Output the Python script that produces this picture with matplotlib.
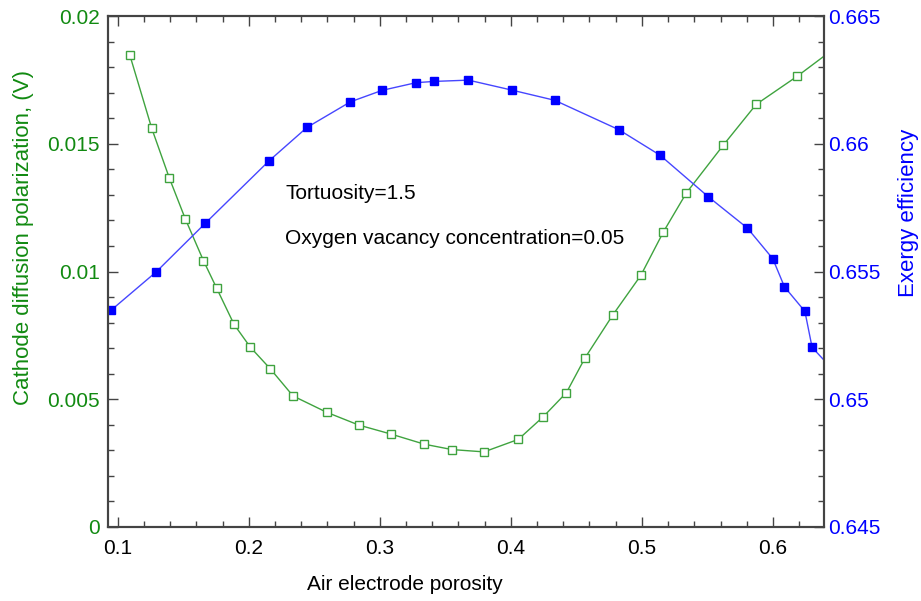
import numpy as np
import matplotlib
matplotlib.use("Agg")
import matplotlib.pyplot as plt
from matplotlib.ticker import MultipleLocator, FormatStrFormatter, FuncFormatter

plt.rcParams['font.family'] = ['Liberation Sans', 'DejaVu Sans']

# Cathode diffusion polarization (left axis, V)
x_pol = [0.1091, 0.1259, 0.1393, 0.1515, 0.1653, 0.1755, 0.1887, 0.2011, 0.2164,
         0.2337, 0.2594, 0.2839, 0.3083, 0.3340, 0.3551, 0.3795, 0.4057, 0.4248,
         0.4424, 0.4566, 0.4778, 0.4992, 0.5164, 0.5340, 0.5622, 0.5872, 0.6185,
         0.6500]
y_pol = [0.01848, 0.01560, 0.01366, 0.01206, 0.01043, 0.00934, 0.00793, 0.00704,
         0.00619, 0.00513, 0.00449, 0.00399, 0.00364, 0.00324, 0.00303, 0.00294,
         0.00343, 0.00432, 0.00526, 0.00662, 0.00830, 0.00985, 0.01155, 0.01308,
         0.01495, 0.01654, 0.01764, 0.01885]

# Exergy efficiency (right axis)
x_ex = [0.0950, 0.1294, 0.1668, 0.2154, 0.2444, 0.2775, 0.3017, 0.3276, 0.3416,
        0.3676, 0.4007, 0.4335, 0.4824, 0.5139, 0.5508, 0.5805, 0.5999, 0.6088,
        0.6244, 0.6299, 0.6450]
y_ex = [0.65349, 0.65499, 0.65689, 0.65933, 0.66064, 0.66164, 0.66209, 0.66239,
        0.66244, 0.66249, 0.66210, 0.66170, 0.66055, 0.65955, 0.65792, 0.65670,
        0.65550, 0.65440, 0.65344, 0.65203, 0.65120]

green_txt = '#118a11'
green_line = '#3fa33f'
blue_txt = '#0000ff'
blue_line = '#4646ff'
fs = 15

fig = plt.figure(figsize=(9.21, 6.01), dpi=100)
ax = fig.add_axes([108 / 921, 1 - 527 / 601, 715.5 / 921, 511 / 601])
ax2 = ax.twinx()

ax.plot(x_pol, y_pol, '-', color=green_line, lw=1.0, marker='s', ms=5.5,
        mfc='white', mec=green_line, mew=1.0)
ax2.plot(x_ex, y_ex, '-', color=blue_line, lw=1.0, marker='s', ms=5.5,
         mfc='#0000ff', mec='#0000ff')

ax.set_xlim(0.0925, 0.6386)
ax.set_ylim(0, 0.02)
ax2.set_ylim(0.645, 0.665)

ax.xaxis.set_major_locator(MultipleLocator(0.1))
ax.xaxis.set_minor_locator(MultipleLocator(0.02))
ax.yaxis.set_major_locator(MultipleLocator(0.005))
ax.yaxis.set_minor_locator(MultipleLocator(0.001))
ax2.yaxis.set_major_locator(MultipleLocator(0.005))
ax2.yaxis.set_minor_locator(MultipleLocator(0.001))
ax.xaxis.set_major_formatter(FormatStrFormatter('%g'))
ax.yaxis.set_major_formatter(FuncFormatter(lambda v, p: '%g' % round(v, 4)))
ax2.yaxis.set_major_formatter(FuncFormatter(lambda v, p: '%g' % round(v, 4)))

ax.tick_params(axis='x', which='both', direction='in', top=True, labelsize=fs,
               pad=9, color='#444444')
ax.tick_params(axis='y', which='both', direction='in', labelsize=fs, pad=6,
               labelcolor=green_txt, color='#444444')
ax2.tick_params(axis='y', which='both', direction='in', labelsize=fs, pad=3.5,
                labelcolor=blue_txt, color='#444444')
for a in (ax, ax2):
    a.tick_params(which='major', length=7, width=1)
    a.tick_params(which='minor', length=4, width=1)
    for s in a.spines.values():
        s.set_color('#444444')
        s.set_linewidth(1.5)

ax.set_xlabel('Air electrode porosity', fontsize=15)
ax.xaxis.set_label_coords(0.415, -0.094)
ax.set_ylabel('Cathode diffusion polarization, (V)', fontsize=16, color=green_txt)
ax.yaxis.set_label_coords(-0.103, 0.5656)
ax2.set_ylabel('Exergy efficiency', fontsize=16, color=blue_txt)
ax2.yaxis.set_label_coords(1.104, 0.6145)

ax.text(0.2276, 0.01307, 'Tortuosity=1.5', fontsize=fs, va='center', ha='left')
ax.text(0.2276, 0.01131, 'Oxygen vacancy concentration=0.05', fontsize=fs,
        va='center', ha='left')

fig.savefig('out.png', dpi=100)
